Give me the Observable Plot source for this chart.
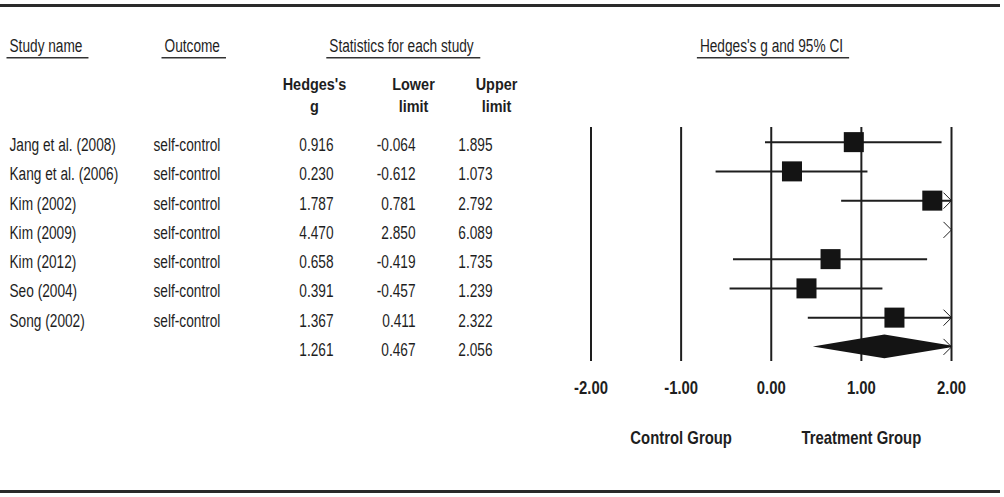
<!DOCTYPE html>
<html>
<head>
<meta charset="utf-8">
<script src="https://cdn.jsdelivr.net/npm/d3@7"></script>
<script src="https://cdn.jsdelivr.net/npm/@observablehq/plot@0.6"></script>
<style>
  html, body { margin: 0; padding: 0; background: #fff; }
  #wrap { position: relative; width: 1004px; height: 497px; }
  #wrap::before, #wrap::after {
    content: ""; position: absolute; left: 0; width: 1000px; height: 3px;
    background: #2a2a2a; z-index: 2;
  }
  #wrap::before { top: 4px; }
  #wrap::after { bottom: 4px; }
</style>
</head>
<body>
<div id="wrap"></div>
<script>
// ---- data ----
const studies = ["Jang et al. (2008)", "Kang et al. (2006)", "Kim (2002)", "Kim (2009)", "Kim (2012)", "Seo (2004)", "Song (2002)"];
const outcomes = ["self-control", "self-control", "self-control", "self-control", "self-control", "self-control", "self-control"];
const hedgesG = [0.916, 0.230, 1.787, 4.470, 0.658, 0.391, 1.367];
const lowerLimit = [-0.064, -0.612, 0.781, 2.850, -0.419, -0.457, 0.411];
const upperLimit = [1.895, 1.073, 2.792, 6.089, 1.735, 1.239, 2.322];
const summaryValues = [1.261, 0.467, 2.056]; // g, lower, upper
const xTicks = [-2, -1, 0, 1, 2];
const groupLabels = ["Control Group", "Treatment Group"];
const groupPositions = [-1, 1];
const headers = ["Study name", "Outcome", "Statistics for each study", "Hedges's g and 95% CI"];
const subHeaders = ["Hedges's\ng", "Lower\nlimit", "Upper\nlimit"];

// ---- derived tables ----
const [xMin, xMax] = [xTicks[0], xTicks[xTicks.length - 1]];
const rows = studies.map((s, i) => ({row: i + 1, study: s, outcome: outcomes[i], g: hedgesG[i], lower: lowerLimit[i], upper: upperLimit[i]}));
const summaryRow = {row: rows.length + 1, study: "", outcome: "", g: summaryValues[0], lower: summaryValues[1], upper: summaryValues[2]};
const tableRows = [...rows, summaryRow];

const ciRows = rows.filter(d => d.lower < xMax && d.upper > xMin)
  .map(d => ({row: d.row, x1: Math.max(d.lower, xMin), x2: Math.min(d.upper, xMax)}));
const squareRows = rows.filter(d => d.g >= xMin && d.g <= xMax);
const arrowRows = tableRows.filter(d => d.upper > xMax);

const halfH = 0.41;
const s = summaryRow;
const fEnd = s.upper > xMax ? (s.upper - xMax) / (s.upper - s.g) : 0;
const diamond = [
  {x: s.lower, y1: s.row, y2: s.row},
  {x: s.g, y1: s.row - halfH, y2: s.row + halfH},
  {x: Math.min(s.upper, xMax), y1: s.row - halfH * fEnd, y2: s.row + halfH * fEnd}
];

const chevron = {
  draw(ctx) { ctx.moveTo(-8, -8); ctx.lineTo(0, 0); ctx.lineTo(-8, 8); }
};

const headerX = [9, 164, 401, 771];
const headerAnchor = ["start", "start", "middle", "middle"];
const subX = [314, 413, 496];
const colX = {g: 333, lower: 415, upper: 492};

const ink = "#1e1e1e";
const rowDy = 3;

const plot = Plot.plot({
  width: 1004,
  height: 497,
  marginLeft: 0,
  marginRight: 0,
  marginTop: 127,
  marginBottom: 136,
  x: {domain: [xMin, xMax], range: [590.5, 951]},
  y: {domain: [0.5, tableRows.length + 0.5], range: [127, 361], axis: null},
  style: {fontFamily: "'Liberation Sans', Arial, sans-serif", fontSize: "19px", color: ink, background: "#fff"},
  marks: [
    Plot.ruleX(xTicks, {stroke: ink, strokeWidth: 2}),
    Plot.ruleY(ciRows, {x1: "x1", x2: "x2", y: "row", stroke: ink, strokeWidth: 2}),
    Plot.dot(squareRows, {x: "g", y: "row", symbol: "square", r: 11.3, fill: "#141414", stroke: null}),
    Plot.dot(arrowRows, {x: () => xMax, y: "row", symbol: chevron, fill: "none", stroke: ink, strokeWidth: 1}),
    Plot.areaY(diamond, {x: "x", y1: "y1", y2: "y2", fill: "#141414"}),
    Plot.axisX({ticks: xTicks, tickSize: 0, tickPadding: 20, tickFormat: d => d.toFixed(2), fontWeight: "bold", fontSize: 17.5, label: null, fill: ink}),
    // table
    Plot.text(tableRows, {y: "row", text: "study", frameAnchor: "left", dx: 9, dy: rowDy, textAnchor: "start", fill: ink}),
    Plot.text(tableRows, {y: "row", text: "outcome", frameAnchor: "left", dx: 153, dy: rowDy, textAnchor: "start", fill: ink}),
    Plot.text(tableRows, {y: "row", text: d => d.g.toFixed(3), frameAnchor: "left", dx: colX.g, dy: rowDy, textAnchor: "end", fill: ink}),
    Plot.text(tableRows, {y: "row", text: d => d.lower.toFixed(3), frameAnchor: "left", dx: colX.lower, dy: rowDy, textAnchor: "end", fill: ink}),
    Plot.text(tableRows, {y: "row", text: d => d.upper.toFixed(3), frameAnchor: "left", dx: colX.upper, dy: rowDy, textAnchor: "end", fill: ink}),
    // headers
    ...headers.map((h, i) => Plot.text([h], {frameAnchor: "top-left", dx: headerX[i], dy: -82, lineAnchor: "middle", textAnchor: headerAnchor[i], fill: ink})),
    ...subHeaders.map((h, i) => Plot.text([h], {frameAnchor: "top-left", dx: subX[i], dy: -53, lineAnchor: "top", textAnchor: "middle", fontWeight: "bold", fontSize: 17, lineHeight: 1.28, fill: ink})),
    // group labels
    Plot.text(groupLabels, {x: (d, i) => groupPositions[i], frameAnchor: "bottom", dy: 77, lineAnchor: "middle", fontWeight: "bold", fontSize: 17.5, fill: ink})
  ]
});
document.getElementById("wrap").appendChild(plot);

// condensed look of the original (narrow Arial): squeeze glyphs horizontally around each anchor
d3.select(plot).selectAll("text").each(function() {
  const t = this.getAttribute("transform");
  if (!t) return;
  const bold = +getComputedStyle(this).fontWeight >= 600;
  this.setAttribute("transform", `${t} scale(${bold ? 0.85 : 0.72},1)`);
});

// underlines below the column headers
const svgBox = plot.getBoundingClientRect();
d3.select(plot).selectAll("text").filter(function() { return headers.includes(this.textContent); }).each(function() {
  const r = this.getBoundingClientRect();
  d3.select(plot).append("line")
    .attr("x1", r.left - svgBox.left - 3).attr("x2", r.right - svgBox.left + 6)
    .attr("y1", r.bottom - svgBox.top + 1.5).attr("y2", r.bottom - svgBox.top + 1.5)
    .attr("stroke", "#333").attr("stroke-width", 1.5);
});
</script>
</body>
</html>
